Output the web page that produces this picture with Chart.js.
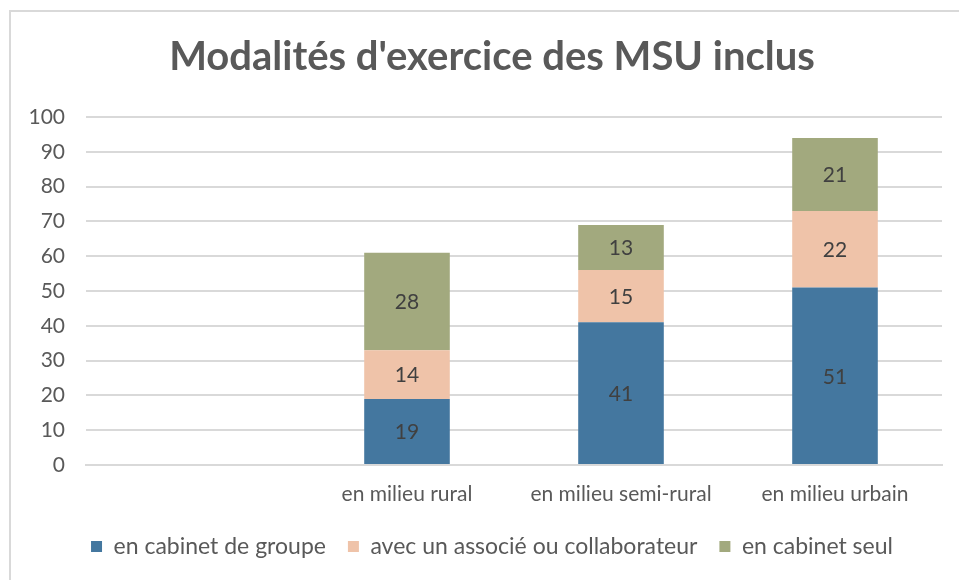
<!DOCTYPE html>
<html>
<head>
<meta charset="utf-8">
<script src="https://cdn.jsdelivr.net/npm/chart.js@4/dist/chart.umd.min.js"></script>
<style>
    html, body { margin: 0; padding: 0; background: #fff; }
    #frame {
        position: absolute; left: 9px; top: 10px; width: 960px; height: 580px;
        border-top: 2px solid #d9d9d9; border-left: 2px solid #d9d9d9;
    }
    #wrap { position: absolute; left: 0; top: 0; width: 959px; height: 580px; }
</style>
</head>
<body>
<div id="frame"></div>
<div id="wrap"><canvas id="chart" width="959" height="580"></canvas></div>
<script>
const categories = ['', 'en milieu rural', 'en milieu semi-rural', 'en milieu urbain'];
const cabinetGroupe = [null, 19, 41, 51];
const associeCollaborateur = [null, 14, 15, 22];
const cabinetSeul = [null, 28, 13, 21];
const yTicks = [0, 10, 20, 30, 40, 50, 60, 70, 80, 90, 100];

const FONT = 'Lato, "Open Sans", sans-serif';
const TEXT = '#595959';
const GRID = '#d9d9d9';

// writes the value in the middle of each stacked segment
const valueLabels = {
    id: 'valueLabels',
    afterDatasetsDraw(chart) {
        const ctx = chart.ctx;
        ctx.save();
        ctx.font = '21px ' + FONT;
        ctx.fillStyle = '#404040';
        ctx.textAlign = 'center';
        ctx.textBaseline = 'middle';
        chart.data.datasets.forEach((ds, i) => {
            chart.getDatasetMeta(i).data.forEach((bar, j) => {
                const v = ds.data[j];
                if (v == null) {
                    return;
                }
                const c = bar.getCenterPoint();
                ctx.fillText(String(v), c.x, c.y + 1);
            });
        });
        ctx.restore();
    },
};

// the y labels stick out left of the padded area, so widen the scale box
// after layout or chart.js clips "100"
const unclipY = {
    id: 'unclipY',
    afterLayout(chart) {
        chart.scales.y.left = 0;
    },
};

new Chart(document.getElementById('chart'), {
    type: 'bar',
    data: {
        labels: categories,
        datasets: [
            {label: 'en cabinet de groupe', data: cabinetGroupe, backgroundColor: '#44779f'},
            {label: 'avec un associé ou collaborateur', data: associeCollaborateur, backgroundColor: '#efc3a9'},
            {label: 'en cabinet seul', data: cabinetSeul, backgroundColor: '#a2a97e'},
        ],
    },
    options: {
        responsive: false,
        animation: false,
        layout: {padding: {left: 42, right: 17, top: 0, bottom: 12}},
        datasets: {bar: {categoryPercentage: 0.8, barPercentage: 0.5, borderWidth: 0}},
        scales: {
            x: {
                stacked: true,
                grid: {display: false, drawTicks: false},
                border: {display: true, color: GRID, width: 2},
                ticks: {color: TEXT, font: {family: FONT, size: 21}, padding: 17, maxRotation: 0},
                afterFit(scale) { scale.height = 48; },
            },
            y: {
                stacked: true,
                min: 0,
                max: 100,
                afterBuildTicks(scale) { scale.ticks = yTicks.map((v) => ({value: v})); },
                grid: {color: GRID, lineWidth: 2, drawTicks: false},
                border: {display: false},
                ticks: {color: TEXT, font: {family: FONT, size: 21}, padding: 21},
                afterFit(scale) { scale.width = 44; },
            },
        },
        plugins: {
            title: {
                display: true,
                text: "Modalités d'exercice des MSU inclus",
                color: TEXT,
                font: {family: FONT, size: 40, weight: 'bold'},
                padding: {top: 33, bottom: 36},
            },
            legend: {
                position: 'bottom',
                labels: {
                    color: TEXT,
                    font: {family: FONT, size: 23},
                    boxWidth: 11,
                    boxHeight: 11,
                    padding: 22,
                },
            },
            tooltip: {enabled: false},
        },
    },
    plugins: [valueLabels, unclipY],
});
</script>
</body>
</html>
